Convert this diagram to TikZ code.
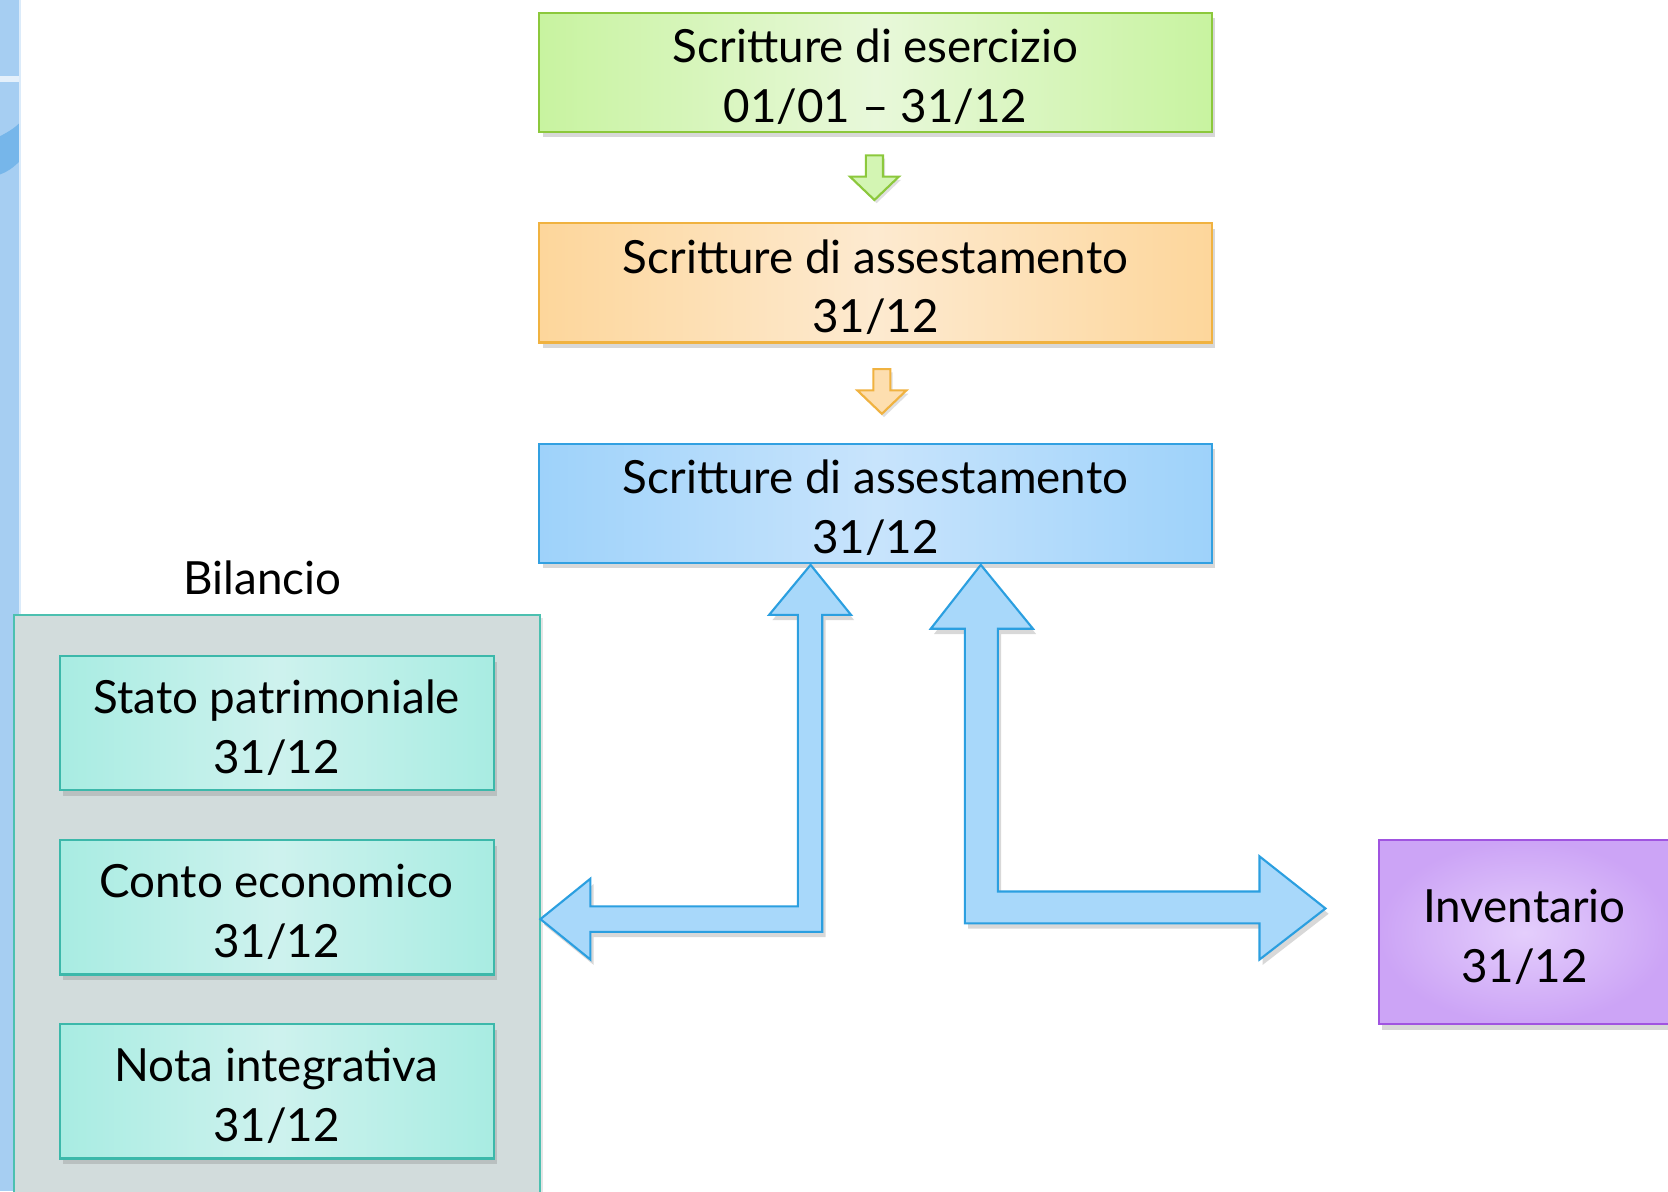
\documentclass[tikz,border=0pt]{standalone}
\usepackage{fontspec}
\setmainfont{Lato}
\usetikzlibrary{shadows}
\definecolor{gEdge}{RGB}{200,243,160}\definecolor{gMid}{RGB}{232,248,218}\definecolor{gLine}{RGB}{140,200,60}
\definecolor{oEdge}{RGB}{253,214,155}\definecolor{oMid}{RGB}{253,234,208}\definecolor{oLine}{RGB}{240,178,64}
\definecolor{bEdge}{RGB}{158,210,250}\definecolor{bMid}{RGB}{200,228,252}\definecolor{bLine}{RGB}{50,160,225}
\definecolor{tEdge}{RGB}{168,236,226}\definecolor{tMid}{RGB}{206,242,238}\definecolor{tLine}{RGB}{60,184,170}
\definecolor{pEdge}{RGB}{204,164,246}\definecolor{pMid}{RGB}{228,206,252}\definecolor{pLine}{RGB}{160,84,224}
\definecolor{grayFill}{RGB}{210,220,220}\definecolor{grayLine}{RGB}{76,192,176}
\definecolor{arFill}{RGB}{168,216,250}\definecolor{arLine}{RGB}{43,159,224}
\definecolor{stripA}{RGB}{166,206,242}\definecolor{stripB}{RGB}{118,182,234}
\tikzset{
  txt/.style={font=\fontsize{21.5}{28}\selectfont, align=center},
  box/.style={txt, draw, line width=1pt, inner sep=0pt, text height=47pt, text depth=0pt,
    drop shadow={opacity=0.3, shadow xshift=1.5pt, shadow yshift=-2.5pt}},
  greenbox/.style={box, draw=gLine, left color=gEdge, right color=gEdge, middle color=gMid},
  orangebox/.style={box, draw=oLine, left color=oEdge, right color=oEdge, middle color=oMid},
  bluebox/.style={box, draw=bLine, left color=bEdge, right color=bEdge, middle color=bMid},
  tealbox/.style={box, draw=tLine, left color=tEdge, right color=tEdge, middle color=tMid},
  purplebox/.style={box, draw=pLine, inner color=pMid, outer color=pEdge},
  blockarrow/.style={draw=arLine, fill=arFill, line width=1pt, line join=miter,
    drop shadow={opacity=0.3, shadow xshift=1.5pt, shadow yshift=-2.5pt}},
}
\begin{document}
\begin{tikzpicture}[x=0.5pt,y=-0.5pt]
\useasboundingbox (0,0) rectangle (1568,1120);
\fill[white] (0,0) rectangle (1568,1120);
% left decorative strip
\fill[stripA] (0,0) rectangle (18,1120);
\fill[white!70!stripA] (0,71) rectangle (18,77);
\fill[stripB] (0,128) .. controls (8,124) and (14,120) .. (18,116) -- (18,152) .. controls (12,158) and (6,162) .. (0,164) -- cycle;
\draw[white!60!stripA, line width=1pt] (18.5,0) -- (18.5,1120);

% top chain
\node[greenbox, minimum width=316pt, minimum height=56pt] (es) at (823,68) {Scritture di esercizio\\01/01 – 31/12};
\node[orangebox, minimum width=316pt, minimum height=56pt] (as1) at (823,266) {Scritture di assestamento\\31/12};
\node[bluebox, minimum width=316pt, minimum height=56pt] (as2) at (823,473) {Scritture di assestamento\\31/12};

% small down arrows
\draw[draw=gLine, fill=gEdge!80!white, line width=1pt, line join=miter,
  drop shadow={opacity=0.25, shadow xshift=1pt, shadow yshift=-1.5pt}]
  (814,146) -- (830,146) -- (830,166) -- (845,166) -- (822,188) -- (799,166) -- (814,166) -- cycle;
\draw[draw=oLine, fill=oEdge!80!white, line width=1pt, line join=miter,
  drop shadow={opacity=0.25, shadow xshift=1pt, shadow yshift=-1.5pt}]
  (821,347) -- (837,347) -- (837,367) -- (852,367) -- (829,389) -- (806,367) -- (821,367) -- cycle;

% Bilancio group
\node[txt] (bil) at (247,543) {Bilancio};
\node[draw=grayLine, fill=grayFill, line width=1pt, minimum width=247.5pt, minimum height=280pt, anchor=north west, inner sep=0pt,
  drop shadow={opacity=0.2, shadow xshift=1pt, shadow yshift=-1.5pt}] (grp) at (12,577) {};
\node[tealbox, minimum width=204pt, minimum height=63pt] (sp) at (260,680) {Stato patrimoniale\\31/12};
\node[tealbox, minimum width=204pt, minimum height=63pt] (ce) at (260,853) {Conto economico\\31/12};
\node[tealbox, minimum width=204pt, minimum height=63pt] (ni) at (260,1026) {Nota integrativa\\31/12};

% Inventario
\node[purplebox, minimum width=137pt, minimum height=86.5pt] (inv) at (1433,876.5) {Inventario\\31/12};

% bent block arrows
\coordinate (tipL) at (762,531);
\coordinate (tipG) at (508,864);
\draw[blockarrow] (tipL) -- (800,578) -- (773,578) -- (773,876) -- (555,876) -- (555,902) -- (tipG)
  -- (555,826) -- (555,852) -- (750,852) -- (750,578) -- (723,578) -- cycle;
\coordinate (tipR) at (922,531);
\coordinate (tipI) at (1246,854);
\draw[blockarrow] (tipR) -- (971,591) -- (938,591) -- (938,838) -- (1184,838) -- (1184,805) -- (tipI)
  -- (1184,902) -- (1184,868) -- (907,868) -- (907,591) -- (875,591) -- cycle;
\end{tikzpicture}
\end{document}
